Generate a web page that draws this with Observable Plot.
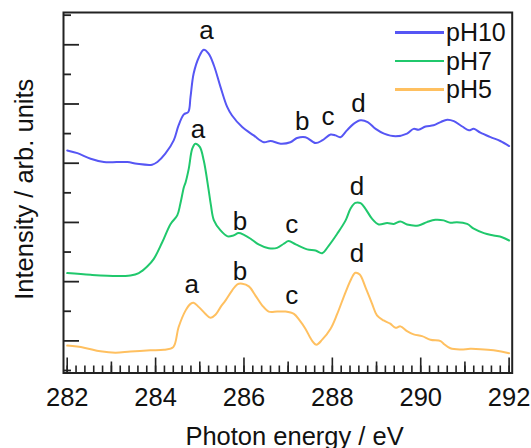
<!DOCTYPE html>
<html><head><meta charset="utf-8">
<script src="https://cdn.jsdelivr.net/npm/d3@7"></script>
<script src="https://cdn.jsdelivr.net/npm/@observablehq/plot@0.6"></script>
<style>
body{margin:0;background:#fff;}
#wrap{position:relative;width:531px;height:448px;font-family:"Liberation Sans",Arial,sans-serif;}
#legend{position:absolute;left:395px;top:18px;}
.row{display:flex;align-items:center;height:28.5px;}
.swatch{width:49px;height:2.5px;margin-right:2px;}
.lab{font-size:25px;line-height:28.5px;color:#111;}
</style></head><body><div id="wrap"></div>
<script>
// ---- data ----
const seriesNames = ["pH10", "pH7", "pH5"];
const seriesColors = ["#5656f4", "#20c86c", "#ffc060"];

const pH10Energy = [282.0, 282.23, 282.53, 282.83, 283.36, 283.58, 283.92, 284.04, 284.22, 284.41, 284.52, 284.64, 284.74, 284.79, 284.86, 284.98, 285.09, 285.2, 285.32, 285.47, 285.62, 285.73, 285.96, 286.22, 286.45, 286.6, 286.83, 287.05, 287.2, 287.39, 287.62, 287.77, 287.96, 288.07, 288.18, 288.33, 288.48, 288.64, 288.8, 288.98, 289.17, 289.43, 289.69, 289.84, 289.95, 290.11, 290.29, 290.45, 290.6, 290.75, 290.94, 291.09, 291.2, 291.35, 291.58, 291.8, 292.0];
const pH10Intensity = [7.43, 7.34, 7.15, 7.04, 7.04, 6.98, 6.95, 7.04, 7.32, 7.77, 8.28, 8.65, 8.73, 9.23, 10.02, 10.58, 10.83, 10.70, 10.30, 9.57, 8.9, 8.61, 8.22, 7.94, 7.71, 7.75, 7.66, 7.71, 7.85, 7.88, 7.68, 7.77, 7.97, 7.94, 7.88, 8.11, 8.33, 8.45, 8.39, 8.16, 8.0, 7.91, 8.0, 8.16, 8.13, 8.24, 8.28, 8.39, 8.47, 8.42, 8.24, 8.11, 8.16, 8.03, 7.88, 7.75, 7.58];

const pH7Energy = [282.0, 282.53, 283.13, 283.43, 283.62, 283.81, 283.96, 284.15, 284.34, 284.49, 284.56, 284.64, 284.68, 284.75, 284.83, 284.9, 285.0, 285.09, 285.2, 285.25, 285.32, 285.47, 285.63, 285.76, 285.88, 286.0, 286.15, 286.33, 286.56, 286.75, 286.9, 287.01, 287.17, 287.43, 287.62, 287.77, 287.92, 288.11, 288.3, 288.41, 288.52, 288.64, 288.75, 288.9, 289.05, 289.24, 289.39, 289.54, 289.69, 289.95, 290.14, 290.33, 290.52, 290.67, 290.82, 291.05, 291.2, 291.43, 291.65, 291.84, 292.0];
const pH7Intensity = [3.29, 3.23, 3.19, 3.21, 3.29, 3.51, 3.77, 4.33, 4.95, 5.24, 5.63, 6.19, 6.36, 6.81, 7.49, 7.66, 7.55, 7.09, 6.1, 5.6, 5.07, 4.73, 4.53, 4.56, 4.64, 4.58, 4.45, 4.26, 4.13, 4.14, 4.28, 4.37, 4.26, 4.09, 4.05, 3.96, 4.22, 4.62, 5.07, 5.46, 5.66, 5.65, 5.46, 5.12, 4.93, 4.98, 4.95, 5.03, 4.93, 4.90, 5.01, 5.09, 5.07, 4.99, 5.01, 4.95, 4.79, 4.64, 4.56, 4.5, 4.39];

const pH5Energy = [282.0, 282.38, 282.75, 283.09, 283.43, 283.88, 284.19, 284.4, 284.52, 284.68, 284.79, 284.86, 284.98, 285.13, 285.24, 285.36, 285.47, 285.58, 285.73, 285.85, 285.96, 286.11, 286.26, 286.41, 286.56, 286.75, 286.94, 287.13, 287.26, 287.39, 287.54, 287.64, 287.77, 287.96, 288.11, 288.3, 288.43, 288.52, 288.62, 288.75, 288.9, 289.01, 289.16, 289.31, 289.43, 289.54, 289.69, 289.84, 290.03, 290.22, 290.45, 290.52, 290.67, 290.9, 291.12, 291.35, 291.65, 292.0];
const pH5Intensity = [0.84, 0.77, 0.65, 0.60, 0.64, 0.68, 0.70, 0.79, 1.46, 2.03, 2.25, 2.29, 2.14, 1.91, 1.78, 1.89, 2.14, 2.36, 2.70, 2.91, 2.93, 2.84, 2.53, 2.2, 1.99, 1.99, 1.99, 1.91, 1.69, 1.41, 1.01, 0.87, 1.04, 1.41, 1.91, 2.65, 3.1, 3.30, 3.24, 2.81, 2.25, 1.86, 1.69, 1.58, 1.44, 1.49, 1.33, 1.22, 1.16, 1.04, 0.99, 0.90, 0.75, 0.71, 0.73, 0.72, 0.68, 0.58];

const peakLetters = ["a", "b", "c", "d", "a", "b", "c", "d", "a", "b", "c", "d"];
const peakEnergy = [285.15, 287.32, 287.90, 288.59, 284.96, 285.91, 287.08, 288.56, 284.82, 285.91, 287.08, 288.56];
const peakIntensity = [11.2, 8.13, 8.28, 8.73, 7.86, 4.73, 4.65, 5.91, 2.61, 3.07, 2.25, 3.66];

const xTickLabels = [282, 284, 286, 288, 290, 292];
const xTitle = "Photon energy / eV";
const yTitle = "Intensity / arb. units";

// ---- build ----
const seriesEnergy = [pH10Energy, pH7Energy, pH5Energy];
const seriesIntensity = [pH10Intensity, pH7Intensity, pH5Intensity];
const rows = seriesNames.flatMap((s, k) =>
  seriesEnergy[k].map((e, i) => ({series: s, energy: e, intensity: seriesIntensity[k][i]})));
const peaks = peakLetters.map((l, i) => ({letter: l, energy: peakEnergy[i], intensity: peakIntensity[i]}));

const W = 531, H = 448, mL = 63, mR = 19.3, mT = 12, mB = 75.5;
const frameW = W - mL - mR, frameH = H - mT - mB;
const xMinor = d3.range(0, 51).map(i => 282 + i * 0.2);
const xMid = d3.range(283, 292, 2);
const xMajor = xTickLabels;
const yMinor = d3.range(0, 13, 2);
const yMajor = d3.range(1, 13, 2);
const ink = "#222";

const chart = Plot.plot({
  width: W, height: H,
  marginLeft: mL, marginRight: mR, marginTop: mT, marginBottom: mB,
  style: {fontFamily: '"Liberation Sans", Arial, sans-serif', fontSize: "25.5px", color: "#111", background: "transparent"},
  x: {domain: [281.916, 292.07]},
  y: {domain: [-0.085, 12.09], axis: null},
  color: {domain: seriesNames, range: seriesColors},
  marks: [
    Plot.line(rows, {x: "energy", y: "intensity", z: "series", stroke: "series", strokeWidth: 2, curve: "catmull-rom"}),
    Plot.text(peaks, {x: "energy", y: "intensity", text: "letter", lineAnchor: "bottom", fontSize: 26, fill: "#111"}),
    Plot.tickX(xMinor, {x: d => d, insetTop: frameH - 7, stroke: ink, strokeWidth: 1.6}),
    Plot.tickX(xMid, {x: d => d, insetTop: frameH - 11, stroke: ink, strokeWidth: 1.6}),
    Plot.tickX(xMajor, {x: d => d, insetTop: frameH - 15, stroke: ink, strokeWidth: 1.6}),
    Plot.tickY(yMinor, {y: d => d, insetRight: frameW - 8, stroke: ink, strokeWidth: 1.8}),
    Plot.tickY(yMajor, {y: d => d, insetRight: frameW - 16, stroke: ink, strokeWidth: 1.8}),
    Plot.axisX({ticks: xTickLabels, tickSize: 0, tickPadding: 15, label: null, tickFormat: d => String(d)}),
    Plot.text([xTitle], {text: d => d, frameAnchor: "bottom", dx: 6.7, dy: 71.5, lineAnchor: "bottom", fill: "#111"}),
    Plot.text([yTitle], {text: d => d, frameAnchor: "left", textAnchor: "middle", rotate: -90, dx: -39, dy: -3.5, lineAnchor: "middle", fill: "#111"}),
    Plot.frame({stroke: ink, strokeWidth: 2})
  ]
});
const wrap = document.getElementById("wrap");
wrap.appendChild(chart);

const legend = document.createElement("div");
legend.id = "legend";
seriesNames.forEach((s, i) => {
  const row = document.createElement("div");
  row.className = "row";
  const sw = document.createElement("span");
  sw.className = "swatch";
  sw.style.background = seriesColors[i];
  const lab = document.createElement("span");
  lab.className = "lab";
  lab.textContent = s;
  row.appendChild(sw); row.appendChild(lab);
  legend.appendChild(row);
});
wrap.appendChild(legend);
</script></body></html>
